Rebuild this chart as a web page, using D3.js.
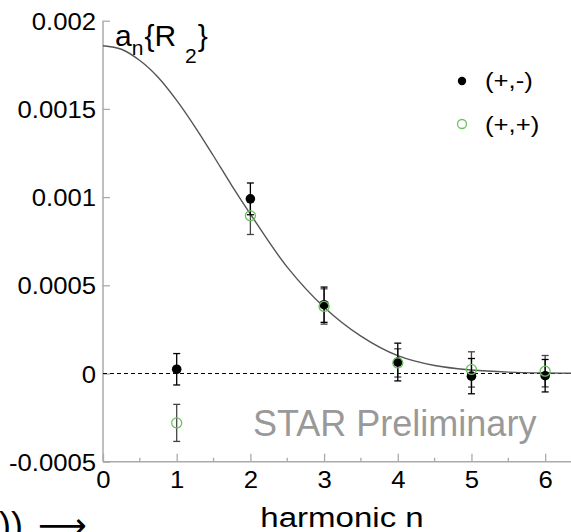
<!DOCTYPE html>
<html>
<head>
<meta charset="utf-8">
<script src="https://cdn.jsdelivr.net/npm/d3@7/dist/d3.min.js"></script>
<style>
    body { margin: 0; background: #fff; }
    svg { display: block; font-family: "Liberation Sans", Arial, sans-serif; }
</style>
</head>
<body>
<svg id="chart" width="571" height="532"></svg>
<script>
    "use strict";
    // harmonics and measured a_n{R_2} values
    var harmonics = [1, 2, 3, 4, 5, 6];
    var oppValues = [0.000024, 0.00099, 0.00039, 0.000065, -0.000015, -0.0000125];
    var oppErrors = [0.000089, 0.00009, 0.0001, 0.000107, 0.0001, 0.000092];
    var sameValues = [-0.00028, 0.000894, 0.00038, 0.00006, 0.000023, 0.000013];
    var sameErrors = [0.000105, 0.000106, 0.0001, 0.00008, 0.0001, 0.000089];
    // fit curve
    var fitN = [0, 0.25, 0.5, 0.75, 1, 1.25, 1.5, 1.75, 2, 2.5, 3, 3.5, 4, 4.5, 5, 5.5, 6, 6.5];
    var fitValues = [0.001858, 0.001838, 0.001774, 0.001678, 0.001548, 0.001397, 0.001233, 0.001064,
        0.000904, 0.000603, 0.000376, 0.000212, 0.000101, 0.000045, 0.00002, 0.000008, 0.000003, 0.000001];
    var xTicks = [0, 1, 2, 3, 4, 5, 6];
    var xMinorTicks = [0.5, 1.5, 2.5, 3.5, 4.5, 5.5, 6.5];
    var yTicks = [-0.0005, 0, 0.0005, 0.001, 0.0015, 0.002];
    var yTickLabels = ["-0.0005", "0", "0.0005", "0.001", "0.0015", "0.002"];
    var legendLabels = ["(+,-)", "(+,+)"];

    var svg = d3.select("#chart");
    var x = d3.scaleLinear().domain([0, 6.5]).range([103, 582]);
    var y = d3.scaleLinear().domain([-0.0005, 0.002]).range([461.7, 20.7]);
    var axisColor = "#aaa";
    var green = "#6cc061";
    var sx = 1.07;
    var stretch = "scale(" + sx + ",1)";

    // y axis, ticks pointing into the plot
    var yAxis = svg.append("g")
        .attr("transform", "translate(" + x(0) + ",0)")
        .call(d3.axisLeft(y).tickValues(yTicks).tickSize(-7).tickPadding(0)
            .tickFormat(function (d, i) { return yTickLabels[i]; }));
    yAxis.select(".domain").attr("stroke", axisColor).attr("stroke-width", 1.5).attr("d", "M0," + y(-0.0005) + "V" + y(0.002));
    yAxis.selectAll(".tick line").attr("stroke", axisColor).attr("stroke-width", 1.3);
    yAxis.selectAll(".tick text")
        .attr("x", -7 / sx)
        .attr("dy", "0.36em")
        .attr("transform", stretch)
        .attr("fill", "#000")
        .style("font-size", "24px")
        .style("font-family", "Liberation Sans, Arial, sans-serif");

    // x axis
    var xAxis = svg.append("g")
        .attr("transform", "translate(0," + y(-0.0005) + ")")
        .call(d3.axisBottom(x).tickValues(xTicks).tickSize(-8).tickPadding(0).tickFormat(d3.format("d")));
    xAxis.select(".domain").attr("stroke", axisColor).attr("stroke-width", 1.5).attr("d", "M" + x(0) + ",0H571");
    xAxis.selectAll(".tick line").attr("stroke", axisColor).attr("stroke-width", 1.3);
    xAxis.selectAll(".tick text")
        .attr("y", 26)
        .attr("dy", 0)
        .attr("x", 0)
        .attr("transform", stretch)
        .attr("fill", "#000")
        .style("font-size", "24px")
        .style("font-family", "Liberation Sans, Arial, sans-serif");
    xAxis.selectAll(".minor").data(xMinorTicks).enter().append("line")
        .attr("class", "minor")
        .attr("x1", function (d) { return x(d); })
        .attr("x2", function (d) { return x(d); })
        .attr("y1", 0).attr("y2", -4)
        .attr("stroke", axisColor).attr("stroke-width", 1.3);

    // zero line
    svg.append("line")
        .attr("x1", x(0)).attr("x2", 571)
        .attr("y1", y(0)).attr("y2", y(0))
        .attr("stroke", "#000").attr("stroke-width", 1)
        .attr("stroke-dasharray", "4,3");

    // fit curve
    svg.append("path")
        .datum(fitN.map(function (n, i) { return [n, fitValues[i]]; }))
        .attr("fill", "none")
        .attr("stroke", "#555")
        .attr("stroke-width", 1.4)
        .attr("d", d3.line().x(function (d) { return x(d[0]); }).y(function (d) { return y(d[1]); })
            .curve(d3.curveCatmullRom));

    function errorBars(values, errors, color) {
        var g = svg.append("g").attr("stroke", color).attr("stroke-width", 1.3);
        harmonics.forEach(function (n, i) {
            var cx = x(n), top = y(values[i] + errors[i]), bot = y(values[i] - errors[i]);
            g.append("line").attr("x1", cx).attr("x2", cx).attr("y1", top).attr("y2", bot);
            g.append("line").attr("x1", cx - 3.5).attr("x2", cx + 3.5).attr("y1", top).attr("y2", top);
            g.append("line").attr("x1", cx - 3.5).attr("x2", cx + 3.5).attr("y1", bot).attr("y2", bot);
        });
    }
    errorBars(sameValues, sameErrors, "#444");
    errorBars(oppValues, oppErrors, "#000");

    svg.append("g").selectAll("circle").data(harmonics).enter().append("circle")
        .attr("cx", function (d) { return x(d); })
        .attr("cy", function (d, i) { return y(oppValues[i]); })
        .attr("r", 4.8)
        .attr("fill", "#000");
    svg.append("g").selectAll("circle").data(harmonics).enter().append("circle")
        .attr("cx", function (d) { return x(d); })
        .attr("cy", function (d, i) { return y(sameValues[i]); })
        .attr("r", 5)
        .attr("fill", "none")
        .attr("stroke", green)
        .attr("stroke-width", 1.3);

    // legend
    var legend = svg.append("g").attr("transform", "translate(462,81)");
    legend.append("circle").attr("cx", 0).attr("cy", 0).attr("r", 4.2).attr("fill", "#000");
    legend.append("circle").attr("cx", 0).attr("cy", 43).attr("r", 4.5)
        .attr("fill", "none").attr("stroke", green).attr("stroke-width", 1.3);
    legend.selectAll("text").data(legendLabels).enter().append("text")
        .attr("transform", function (d, i) { return "translate(23," + (i * 44 + 7) + ") scale(1.12,1)"; })
        .style("font-size", "23px")
        .text(function (d) { return d; });

    // title a_n{R_2}
    var title = svg.append("text").attr("x", 115).attr("y", 46).style("font-size", "30px");
    title.append("tspan").text("a");
    title.append("tspan").attr("dy", 9).style("font-size", "21px").text("n");
    title.append("tspan").attr("dy", -9).attr("dx", 1).text("{R");
    title.append("tspan").attr("dy", 17).attr("dx", 9).style("font-size", "21px").text("2");
    title.append("tspan").attr("dy", -17).attr("dx", 1).text("}");

    svg.append("text")
        .attr("x", 253).attr("y", 436)
        .attr("fill", "#999")
        .style("font-size", "36px")
        .text("STAR Preliminary");

    svg.append("text")
        .attr("transform", "translate(342,527) scale(1.18,1)")
        .attr("text-anchor", "middle")
        .style("font-size", "28px")
        .text("harmonic n");

    // clipped label at the lower left
    svg.append("text")
        .attr("x", 23).attr("y", 538)
        .attr("text-anchor", "end")
        .style("font-size", "36px")
        .text("))");
    svg.append("text")
        .attr("x", 38).attr("y", 537)
        .style("font-size", "34px")
        .style("font-family", "DejaVu Sans")
        .text("\u27f6");
</script>
</body>
</html>
